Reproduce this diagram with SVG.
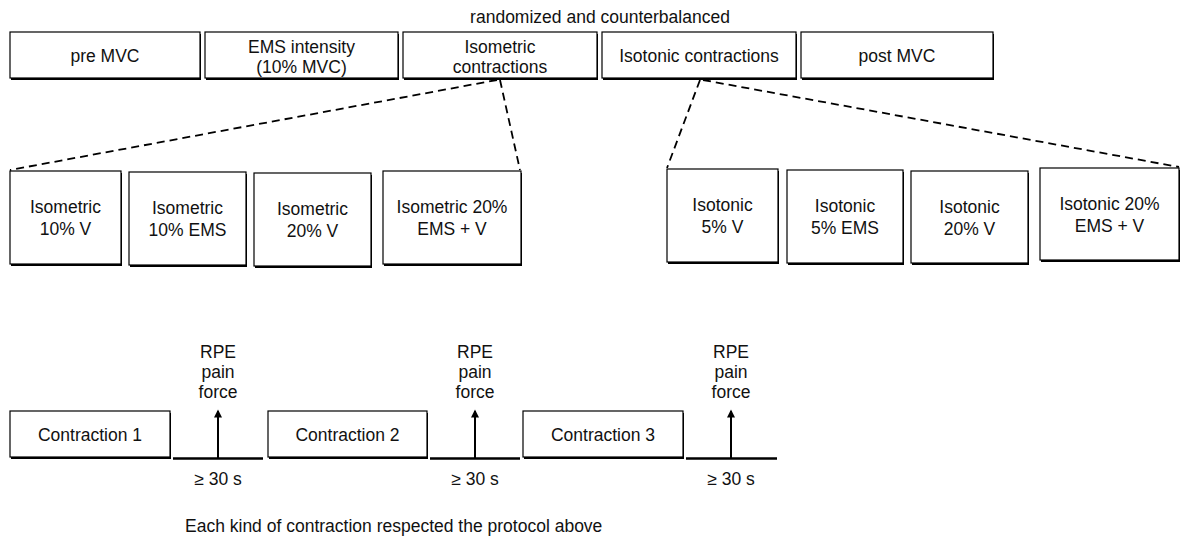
<svg xmlns="http://www.w3.org/2000/svg" width="1182" height="538" viewBox="0 0 1182 538">
  <style>
    .box{fill:#fff;stroke:#000;stroke-width:1.2}
    .sh{fill:#000}
    text{font-family:"Liberation Sans",Arial,sans-serif;font-size:17.5px;fill:#111;text-anchor:middle}
    .dash{stroke:#000;stroke-width:1.8;stroke-dasharray:8 5;fill:none}
    .base{stroke:#000;stroke-width:2.5}
    .arrow{stroke:#000;stroke-width:2;marker-end:url(#ah)}
  </style>
  <defs>
    <marker id="ah" viewBox="0 0 10 10" refX="8" refY="5" markerWidth="9" markerHeight="8" orient="auto" markerUnits="userSpaceOnUse">
      <path d="M0,0 L10,5 L0,10 z" fill="#000"/>
    </marker>
  </defs>
  <rect width="1182" height="538" fill="#fff"/>

  <text x="600" y="23">randomized and counterbalanced</text>

  <!-- dashed expansion lines -->
  <g id="connectors">
    <line class="dash" x1="497" y1="80" x2="10" y2="170"/>
    <line class="dash" x1="500" y1="80" x2="520" y2="170"/>
    <line class="dash" x1="700" y1="80" x2="667" y2="168"/>
    <line class="dash" x1="703" y1="80" x2="1179" y2="167"/>
  </g>

  <!-- session sequence -->
  <g id="preMVC"><rect class="sh" x="11" y="34" width="190" height="46"/><rect class="box" x="10" y="32" width="190" height="46"/><text x="105" y="62">pre MVC</text></g>
  <g id="emsIntensity"><rect class="sh" x="206" y="34" width="193" height="46"/><rect class="box" x="205" y="32" width="193" height="46"/><text x="301.5" y="53">EMS intensity</text><text x="301.5" y="73">(10% MVC)</text></g>
  <g id="isometricContractions"><rect class="sh" x="404" y="34" width="194" height="46"/><rect class="box" x="403" y="32" width="194" height="46"/><text x="500" y="53">Isometric</text><text x="500" y="73">contractions</text></g>
  <g id="isotonicContractions"><rect class="sh" x="603" y="34" width="194" height="46"/><rect class="box" x="602" y="32" width="194" height="46"/><text x="699" y="62">Isotonic contractions</text></g>
  <g id="postMVC"><rect class="sh" x="802" y="34" width="192" height="46"/><rect class="box" x="801" y="32" width="192" height="46"/><text x="897" y="62">post MVC</text></g>

  <!-- isometric conditions -->
  <g id="iso10V"><rect class="sh" x="11" y="173" width="111" height="93"/><rect class="box" x="10" y="171" width="111" height="93"/><text x="65.5" y="213">Isometric</text><text x="65.5" y="235">10% V</text></g>
  <g id="iso10EMS"><rect class="sh" x="130" y="174" width="117" height="93"/><rect class="box" x="129" y="172" width="117" height="93"/><text x="187.5" y="214">Isometric</text><text x="187.5" y="236">10% EMS</text></g>
  <g id="iso20V"><rect class="sh" x="255" y="175" width="117" height="93"/><rect class="box" x="254" y="173" width="117" height="93"/><text x="312.5" y="215">Isometric</text><text x="312.5" y="237">20% V</text></g>
  <g id="iso20EMSV"><rect class="sh" x="384" y="173" width="138" height="93"/><rect class="box" x="383" y="171" width="138" height="93"/><text x="452" y="213">Isometric 20%</text><text x="452" y="235">EMS + V</text></g>

  <!-- isotonic conditions -->
  <g id="isot5V"><rect class="sh" x="668" y="171" width="111" height="93"/><rect class="box" x="667" y="169" width="111" height="93"/><text x="722.5" y="211">Isotonic</text><text x="722.5" y="233">5% V</text></g>
  <g id="isot5EMS"><rect class="sh" x="788" y="172" width="116" height="93"/><rect class="box" x="787" y="170" width="116" height="93"/><text x="845" y="212">Isotonic</text><text x="845" y="234">5% EMS</text></g>
  <g id="isot20V"><rect class="sh" x="912" y="173" width="117" height="92"/><rect class="box" x="911" y="171" width="117" height="92"/><text x="969.5" y="213">Isotonic</text><text x="969.5" y="235">20% V</text></g>
  <g id="isot20EMSV"><rect class="sh" x="1041" y="170" width="139" height="92"/><rect class="box" x="1040" y="168" width="139" height="92"/><text x="1109.5" y="210">Isotonic 20%</text><text x="1109.5" y="232">EMS + V</text></g>

  <!-- contraction protocol timeline -->
  <g id="contraction1"><rect class="sh" x="11" y="413" width="160" height="46"/><rect class="box" x="10" y="411" width="160" height="46"/><text x="90" y="441">Contraction 1</text></g>
  <g id="contraction2"><rect class="sh" x="269" y="413" width="159" height="46"/><rect class="box" x="268" y="411" width="159" height="46"/><text x="347.5" y="441">Contraction 2</text></g>
  <g id="contraction3"><rect class="sh" x="524" y="413" width="160" height="46"/><rect class="box" x="523" y="411" width="160" height="46"/><text x="603" y="441">Contraction 3</text></g>

  <g id="rest1">
    <line class="base" x1="173" y1="458.5" x2="263" y2="458.5"/>
    <line class="arrow" x1="218" y1="458" x2="218" y2="411"/>
    <text x="218" y="358">RPE</text><text x="218" y="378">pain</text><text x="218" y="398">force</text>
    <text x="218" y="485">≥ 30 s</text>
  </g>
  <g id="rest2">
    <line class="base" x1="430" y1="458.5" x2="520" y2="458.5"/>
    <line class="arrow" x1="475" y1="458" x2="475" y2="411"/>
    <text x="475" y="358">RPE</text><text x="475" y="378">pain</text><text x="475" y="398">force</text>
    <text x="475" y="485">≥ 30 s</text>
  </g>
  <g id="rest3">
    <line class="base" x1="686" y1="458.5" x2="777" y2="458.5"/>
    <line class="arrow" x1="731" y1="458" x2="731" y2="411"/>
    <text x="731" y="358">RPE</text><text x="731" y="378">pain</text><text x="731" y="398">force</text>
    <text x="731" y="485">≥ 30 s</text>
  </g>

  <text x="185" y="532" style="text-anchor:start">Each kind of contraction respected the protocol above</text>
</svg>
